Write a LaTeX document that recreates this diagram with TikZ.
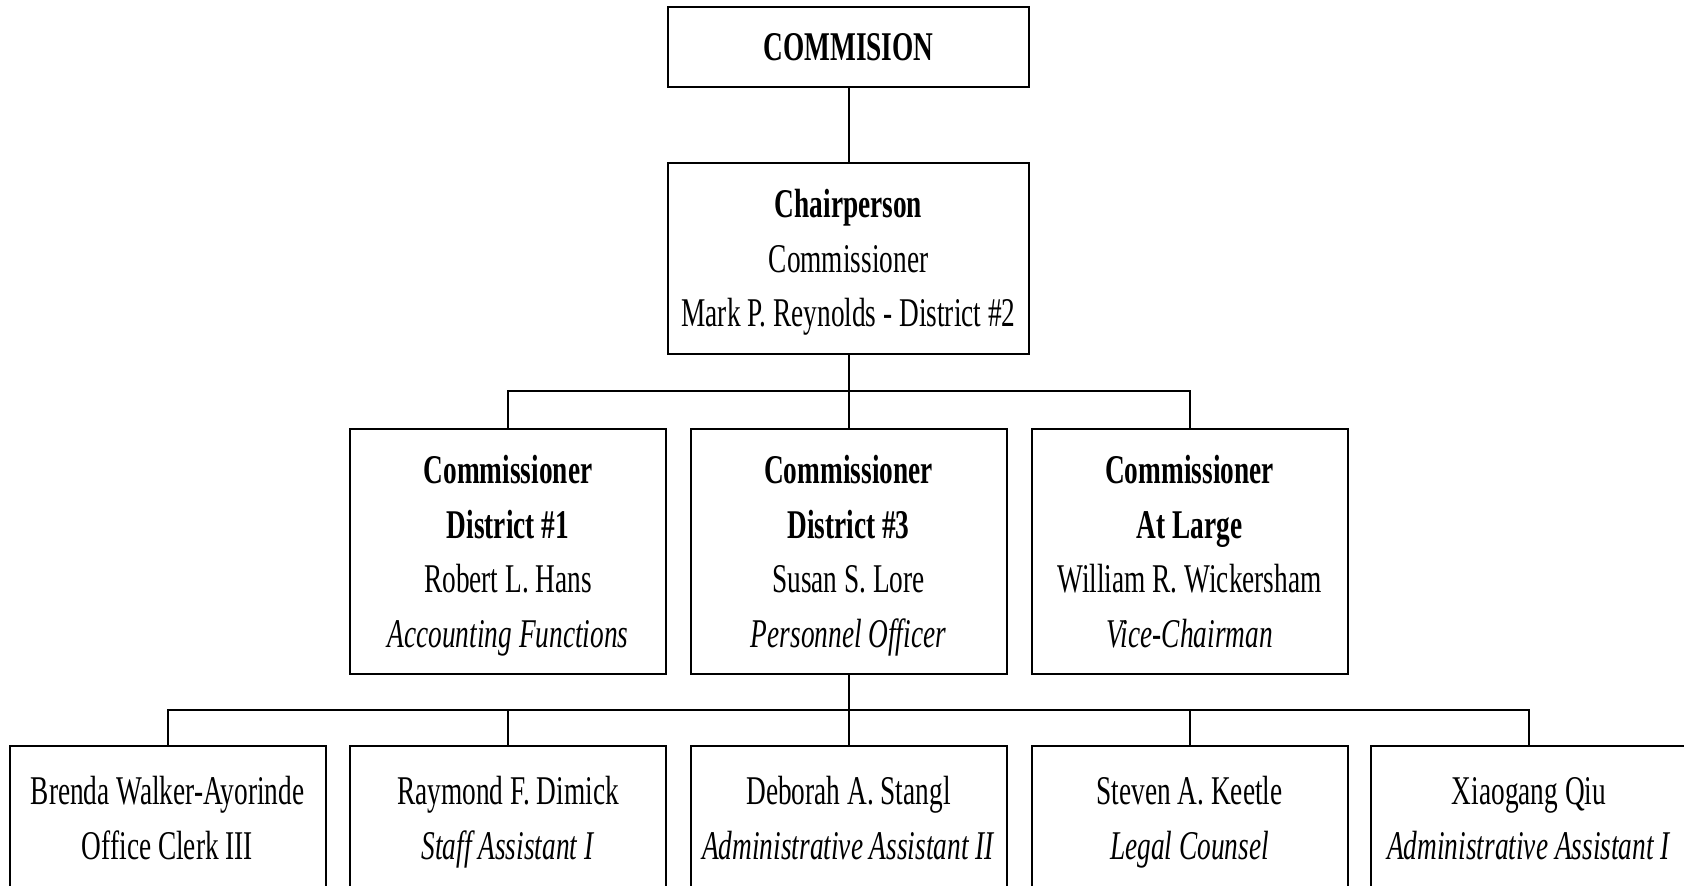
\documentclass[tikz,border=0pt]{standalone}
\usepackage{fontspec}
\setmainfont[FakeStretch=0.67]{Liberation Serif}
\newcommand{\orgline}[1]{\rule[-6.75pt]{0pt}{27.3pt}#1}
\begin{document}
\begin{tikzpicture}[x=0.5pt,y=-0.5pt,
  box/.style={draw,line width=1pt,rectangle,inner sep=0pt,align=center,
    font=\fontsize{20.4}{27.3}\selectfont},
  topbox/.style={box,minimum width=180.5pt},
  midbox/.style={box,minimum width=158pt,minimum height=122.5pt},
  lowbox/.style={box,minimum width=158pt,minimum height=72pt},
  conn/.style={line width=1pt}]
\useasboundingbox (0,0) rectangle (1684,885);
\clip (0,0) rectangle (1684,885);
\node[topbox,minimum height=40pt] (com) at (848.5,47) {\orgline{\textbf{COMMISION}}};
\node[topbox,minimum height=95.5pt] (chair) at (848.5,258.5)
  {\orgline{\textbf{Chairperson}}\\\orgline{Commissioner}\\\orgline{Mark P. Reynolds - District \#2}};
\node[midbox] (m1) at (508,551.5)
  {\orgline{\textbf{Commissioner}}\\\orgline{\textbf{District \#1}}\\\orgline{Robert L. Hans}\\\orgline{\textit{Accounting Functions}}};
\node[midbox] (m2) at (848.5,551.5)
  {\orgline{\textbf{Commissioner}}\\\orgline{\textbf{District \#3}}\\\orgline{Susan S. Lore}\\\orgline{\textit{Personnel Officer}}};
\node[midbox] (m3) at (1189.5,551.5)
  {\orgline{\textbf{Commissioner}}\\\orgline{\textbf{At Large}}\\\orgline{William R. Wickersham}\\\orgline{\textit{Vice-Chairman}}};
\node[lowbox] (b1) at (167.5,818) {\orgline{Brenda Walker-Ayorinde}\\\orgline{Office Clerk III}};
\node[lowbox] (b2) at (508,818) {\orgline{Raymond F. Dimick}\\\orgline{\textit{Staff Assistant I}}};
\node[lowbox] (b3) at (848.5,818) {\orgline{Deborah A. Stangl}\\\orgline{\textit{Administrative Assistant II}}};
\node[lowbox] (b4) at (1189.5,818) {\orgline{Steven A. Keetle}\\\orgline{\textit{Legal Counsel}}};
\node[lowbox] (b5) at (1529,818) {\orgline{Xiaogang Qiu}\\\orgline{\textit{Administrative Assistant I}}};
\coordinate (bus1) at (848.5,391);
\coordinate (bus2) at (848.5,710);
\draw[conn] (com.south) -- (chair.north);
\draw[conn] (chair.south) -- (bus1);
\draw[conn] (m1.north) |- (bus1) -| (m3.north);
\draw[conn] (bus1) -- (m2.north);
\draw[conn] (m2.south) -- (b3.north);
\draw[conn] (b1.north) |- (bus2) -| (b5.north);
\draw[conn] (b2.north) |- (bus2);
\draw[conn] (b4.north) |- (bus2);
\end{tikzpicture}
\end{document}
